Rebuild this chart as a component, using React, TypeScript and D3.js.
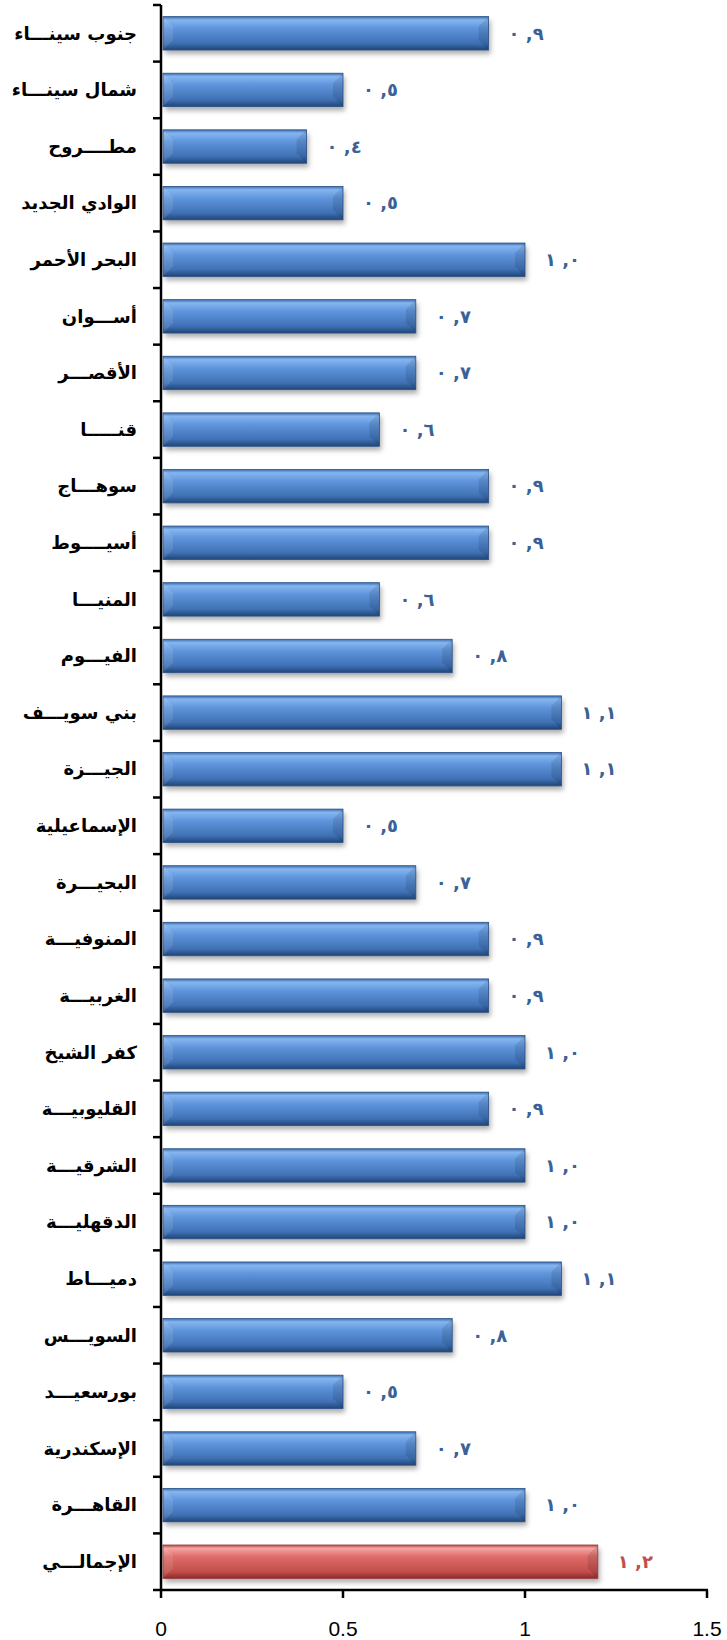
import React from "react";
import * as d3 from "d3";

const categories = [
  "جنوب سينـــاء", "شمال سينـــاء", "مطــــروح", "الوادي الجديد", "البحر الأحمر",
  "أســـوان", "الأقصـــر", "قنـــــا", "سوهـــاج", "أسيــــوط", "المنيـــا", "الفيـــوم",
  "بني سويـــف", "الجيـــزة", "الإسماعيلية", "البحيـــرة", "المنوفيـــة", "الغربيـــة",
  "كفر الشيخ", "القليوبيـــة", "الشرقيـــة", "الدقهليـــة", "دميـــاط", "السويـــس",
  "بورسعيـــد", "الإسكندرية", "القاهـــرة", "الإجمالـــي",
];
const values = [
  0.9, 0.5, 0.4, 0.5, 1.0, 0.7, 0.7, 0.6, 0.9, 0.9, 0.6, 0.8, 1.1, 1.1,
  0.5, 0.7, 0.9, 0.9, 1.0, 0.9, 1.0, 1.0, 1.1, 0.8, 0.5, 0.7, 1.0, 1.2,
];
const totalCategory = "الإجمالـــي";
const xTicks = [0, 0.5, 1, 1.5];

const W = 727, H = 1640;
const left = 161, right = 707, top = 5, bottom = 1590;

const arDigits = "٠١٢٣٤٥٦٧٨٩";
const toArabic = (v: number) =>
  d3.format(".1f")(v).replace(/\d/g, (d) => arDigits[+d]).replace(".", " ,");

export default function App() {
  const x = d3.scaleLinear().domain([0, 1.5]).range([left, right]);
  const y = d3.scaleBand().domain(categories).range([top, bottom]).paddingInner(0.41).paddingOuter(0.205);
  const bw = y.bandwidth();
  const step = y.step();
  const bev = 10;
  return (
    <svg width={W} height={H} style={{ position: "absolute", left: 0, top: 0, background: "#fff" }}>
      <defs>
        <linearGradient id="gBlue" x1="0" y1="0" x2="0" y2="1">
          <stop offset="0" stopColor="#3d6fae" />
          <stop offset="0.1" stopColor="#86b6f0" />
          <stop offset="0.35" stopColor="#5f95dc" />
          <stop offset="0.8" stopColor="#3f70b4" />
          <stop offset="1" stopColor="#1f4576" />
        </linearGradient>
        <linearGradient id="gRed" x1="0" y1="0" x2="0" y2="1">
          <stop offset="0" stopColor="#b84a48" />
          <stop offset="0.1" stopColor="#f6a5a2" />
          <stop offset="0.35" stopColor="#de6c69" />
          <stop offset="0.8" stopColor="#c24e4b" />
          <stop offset="1" stopColor="#8a2c2a" />
        </linearGradient>
        <filter id="shadow" x="-5%" y="-30%" width="110%" height="180%">
          <feGaussianBlur stdDeviation="2.5" />
        </filter>
      </defs>
      {categories.map((c, i) => {
        const v = values[i];
        const y0 = y(c)!;
        const x0 = x(0) + 2;
        const x1 = x(v);
        const isTotal = c === totalCategory;
        const y1 = y0 + bw;
        return (
          <g key={c}>
            <rect x={x0 + 2} y={y0 + 4} width={x1 - x0} height={bw} fill="rgba(0,0,0,0.32)" filter="url(#shadow)" />
            <rect x={x0} y={y0} width={x1 - x0} height={bw} fill={isTotal ? "url(#gRed)" : "url(#gBlue)"} />
            <polygon
              points={`${x1},${y0} ${x1 - bev},${y0 + bev} ${x1 - bev},${y1 - bev} ${x1},${y1}`}
              fill="rgba(0,0,0,0.10)"
            />
            <polygon
              points={`${x0},${y0} ${x0 + bev},${y0 + bev} ${x0 + bev},${y1 - bev} ${x0},${y1}`}
              fill="rgba(255,255,255,0.10)"
            />
            <rect x={x0} y={y0} width={x1 - x0} height={bw} fill="none" stroke={isTotal ? "#9a3a38" : "#2a5288"} strokeWidth={0.8} />
            <text
              x={x1 + 20}
              y={y0 + bw / 2}
              dy="0.35em"
              fontFamily="DejaVu Sans"
              fontWeight="bold"
              fontSize={18}
              fill={isTotal ? "#c0504d" : "#3b6296"}
              direction="ltr"
              style={{ unicodeBidi: "bidi-override" }}
            >
              {toArabic(v)}
            </text>
            <text
              x={137}
              y={y0 + bw / 2}
              dy="0.35em"
              textAnchor="end"
              fontFamily="DejaVu Sans"
              fontWeight="bold"
              fontSize={18}
              fill="#000"
            >
              {c}
            </text>
          </g>
        );
      })}
      {/* y axis */}
      <line x1={left} x2={left} y1={top} y2={bottom} stroke="#000" strokeWidth={2.5} />
      {d3.range(categories.length + 1).map((k) => (
        <line key={k} x1={left - 8} x2={left} y1={top + k * step} y2={top + k * step} stroke="#000" strokeWidth={2.5} />
      ))}
      {/* x axis */}
      <line x1={left - 1} x2={right + 1} y1={bottom} y2={bottom} stroke="#000" strokeWidth={2.5} />
      {xTicks.map((t) => (
        <g key={t}>
          <line x1={x(t)} x2={x(t)} y1={bottom} y2={bottom + 8} stroke="#000" strokeWidth={2.5} />
          <text x={x(t)} y={1636} textAnchor="middle" fontFamily="Liberation Sans" fontSize={21} fill="#000">
            {String(t)}
          </text>
        </g>
      ))}
    </svg>
  );
}
